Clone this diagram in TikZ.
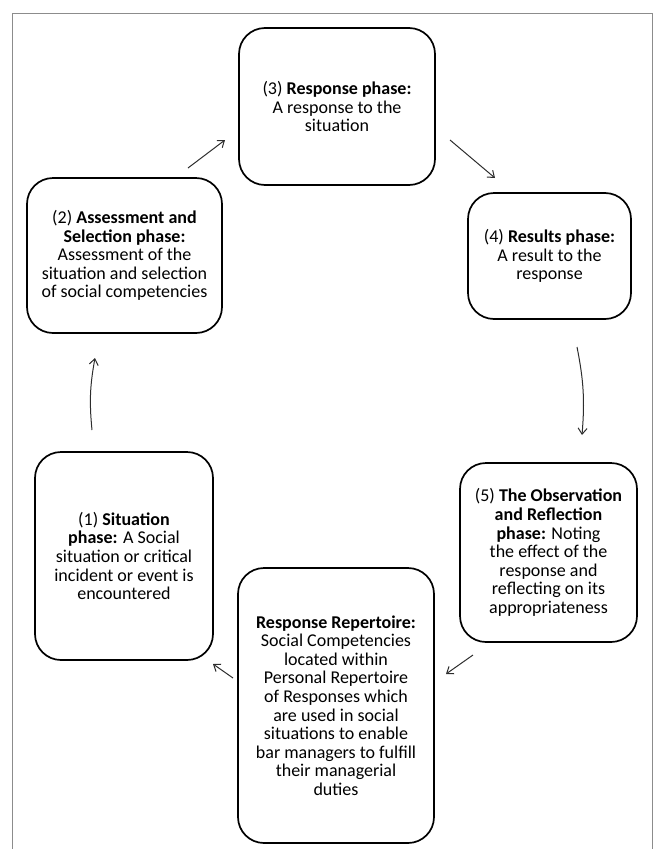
\documentclass[tikz,border=0pt]{standalone}
\usepackage{fontspec}
\setmainfont{Carlito}
\usepackage{xcolor}
\definecolor{framegray}{RGB}{140,140,140}
\definecolor{arrowgray}{RGB}{45,45,45}
\usetikzlibrary{arrows.meta}

\begin{document}
\begin{tikzpicture}[x=1pt,y=-1pt,
  stage/.style={draw,line width=1.7pt,rounded corners=26pt,align=center,
    font=\fontsize{18}{18.6}\selectfont,inner sep=0pt},
  flow/.style={-{Straight Barb[length=6pt,width=9pt]},arrowgray,line width=1pt}]
  \useasboundingbox (0,0) rectangle (657,849);
  % Outer frame (open at the bottom)
  \draw[framegray,line width=0.8pt] (12.5,860) -- (12.5,13) -- (652.5,13) -- (652.5,860);
  % The five phases
  \node[stage,minimum width=178pt,minimum height=208pt] (situation) at (124,556)
    {(1) \textbf{Situation}\\\textbf{phase:} A Social\\situation or critical\\incident or event is\\encountered};
  \node[stage,minimum width=195pt,minimum height=155pt] (assess) at (124.5,255.5)
    {(2) \textbf{Assessment and}\\\textbf{Selection phase:}\\Assessment of the\\situation and selection\\of social competencies};
  \node[stage,minimum width=196pt,minimum height=157pt] (response) at (337,106.5)
    {(3) \textbf{Response phase:}\\A response to the\\situation};
  \node[stage,minimum width=163pt,minimum height=126pt] (results) at (549.5,256)
    {(4) \textbf{Results phase:}\\A result to the\\response};
  \node[stage,minimum width=177pt,minimum height=179pt] (observe) at (548.5,552.5)
    {(5) \textbf{The Observation}\\\textbf{and Reflection}\\\textbf{phase:} Noting\\the effect of the\\response and\\reflecting on its\\appropriateness};
  % Repertoire at the bottom
  \node[stage,minimum width=196pt,minimum height=275pt] (repertoire) at (336,705.5)
    {\textbf{Response Repertoire:}\\Social Competencies\\located within\\Personal Repertoire\\of Responses which\\are used in social\\situations to enable\\bar managers to fulfill\\their managerial\\duties};
  % Arrow ends
  \coordinate (s1) at (92,430);   \coordinate (e1) at (95,358);
  \coordinate (s2) at (188,168);  \coordinate (e2) at (225,140);
  \coordinate (s3) at (450,140);  \coordinate (e3) at (495,178);
  \coordinate (s4) at (577,347);  \coordinate (e4) at (582,435);
  \coordinate (s5) at (473,655);  \coordinate (e5) at (446,674);
  \coordinate (s6) at (233,678);  \coordinate (e6) at (213,664);
  % Cycle
  \draw[flow] (s1) to[bend left=8] (e1);
  \draw[flow] (s2) -- (e2);
  \draw[flow] (s3) -- (e3);
  \draw[flow] (s4) to[bend left=8] (e4);
  \draw[flow] (s5) -- (e5);
  \draw[flow] (s6) -- (e6);
\end{tikzpicture}
\end{document}
